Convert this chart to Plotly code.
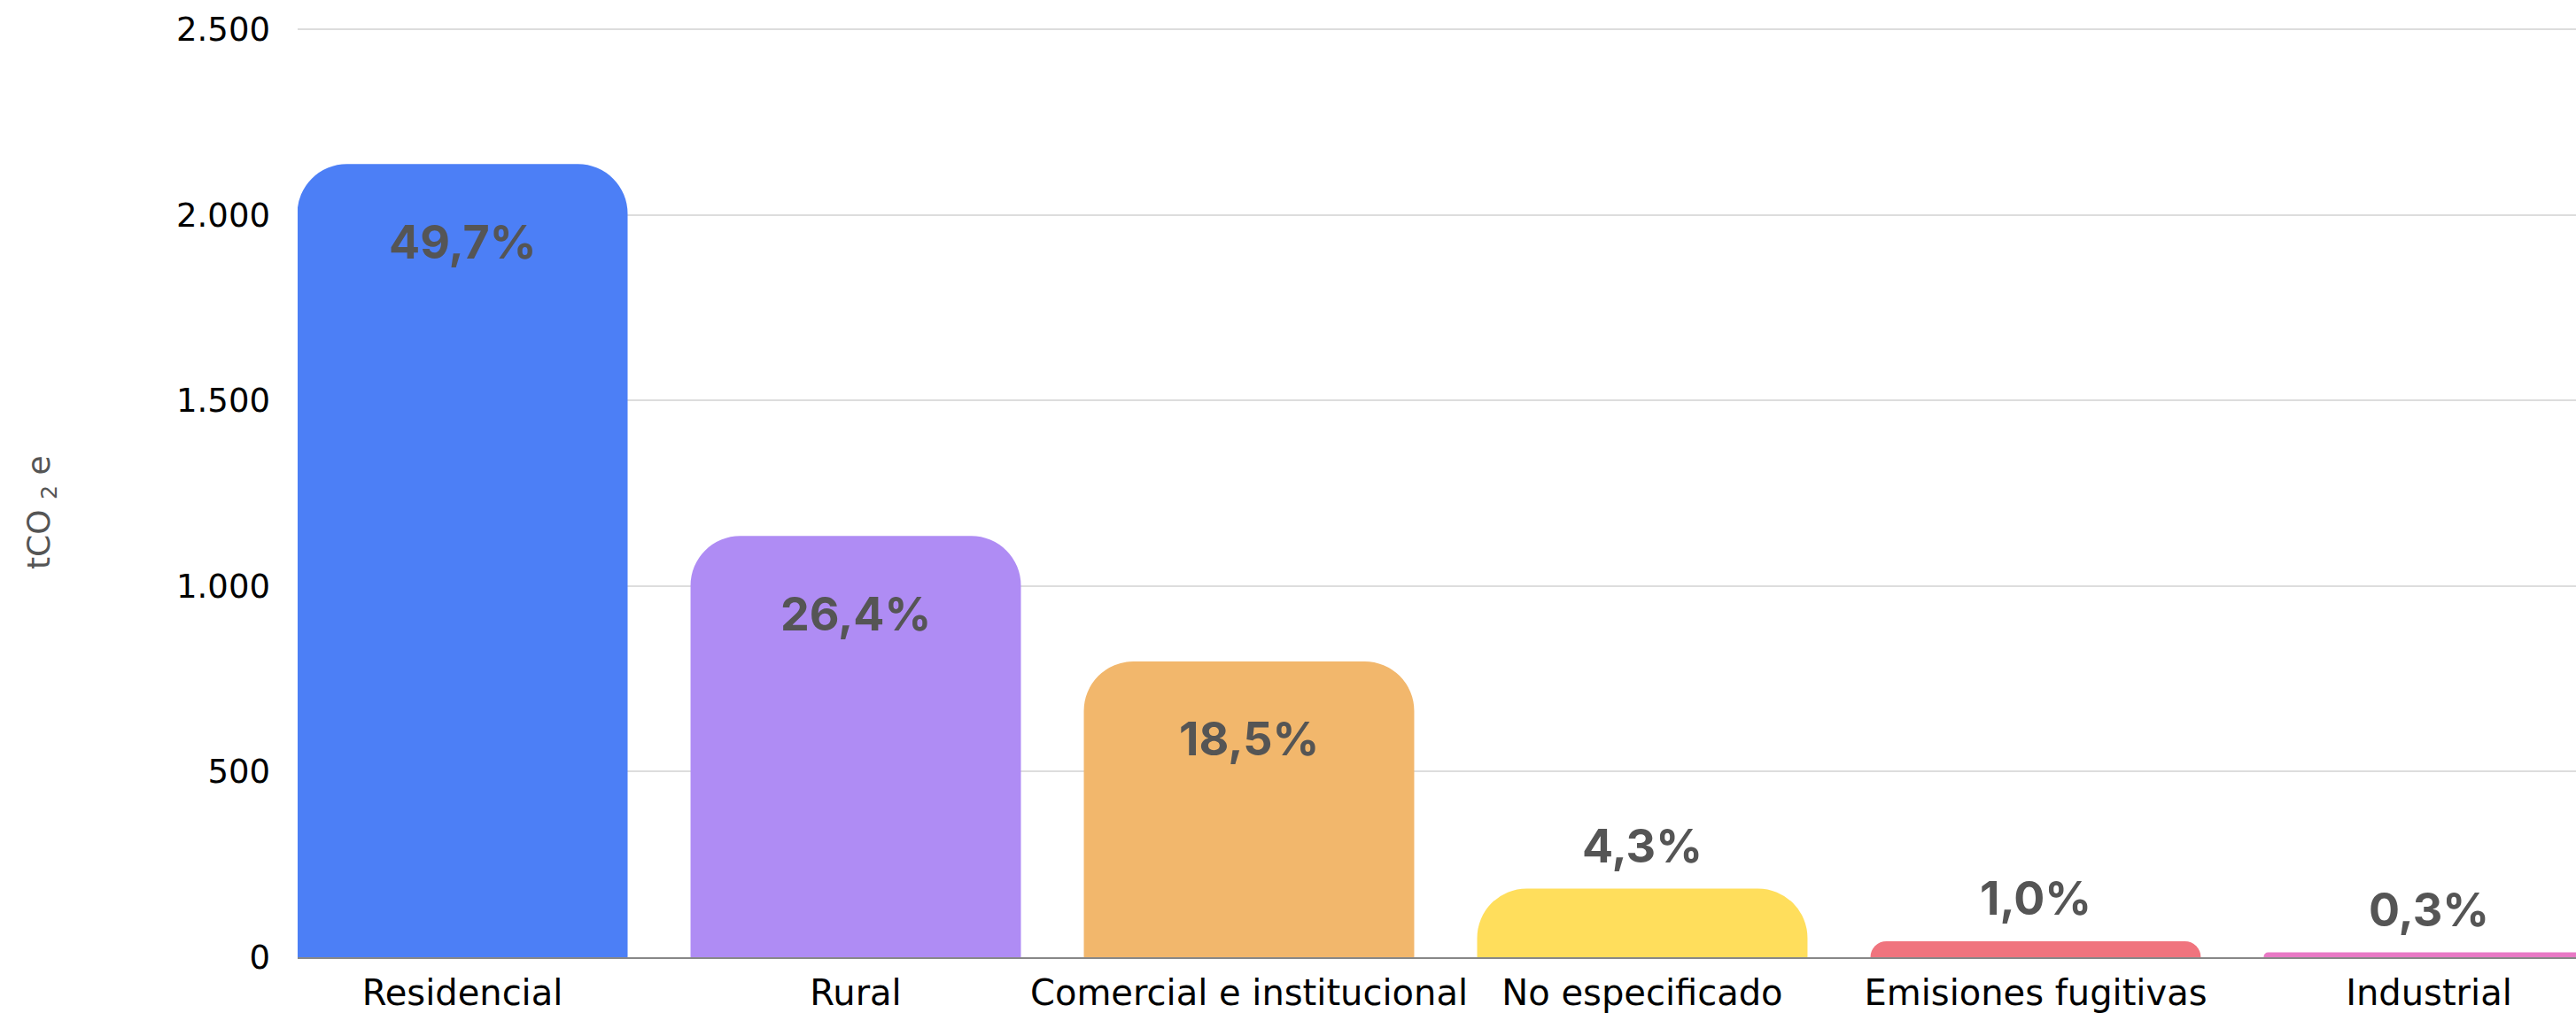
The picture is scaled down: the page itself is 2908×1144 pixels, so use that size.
import plotly.graph_objects as go

categories = ["Residencial", "Rural", "Comercial e institucional", "No especificado",
              "Emisiones fugitivas", "Industrial"]
values = [2137, 1135, 797, 185, 43, 13]
pct_labels = ["49,7%", "26,4%", "18,5%", "4,3%", "1,0%", "0,3%"]
colors = ["#4C7FF6", "#AF8CF4", "#F2B76C", "#FFDE5C", "#F0747E", "#E879C5"]
y_ticks = [0, 500, 1000, 1500, 2000, 2500]
y_ticktext = ["0", "500", "1.000", "1.500", "2.000", "2.500"]

LABEL_FONT = "Inter"
TICK_FONT = "DejaVu Sans"

fig = go.Figure()
fig.add_trace(go.Bar(
    x=categories, y=values,
    marker=dict(color=colors, line=dict(width=0), cornerradius=56),
    hoverinfo="skip",
))

for cat, v, lab in zip(categories, values, pct_labels):
    inside = v > 500
    fig.add_annotation(
        x=cat, y=v, xref="x", yref="y",
        text=f"<b>{lab}</b>", showarrow=False,
        yanchor="middle", yshift=-88 if inside else 48,
        font=dict(family=LABEL_FONT, size=52, color="#555555"),
    )

fig.add_annotation(
    x=0, y=0.5, xref="paper", yref="paper",
    text="tCO <sub>2</sub> e", showarrow=False, textangle=-90,
    xanchor="center", yanchor="middle", xshift=-290, yshift=-23,
    font=dict(family=TICK_FONT, size=36, color="#555555"),
)

fig.update_layout(
    width=2908, height=1144,
    margin=dict(l=336, r=0, t=31, b=63, autoexpand=False),
    paper_bgcolor="white", plot_bgcolor="white",
    bargap=0.16, showlegend=False,
    font=dict(family=TICK_FONT, color="#000000"),
)
fig.update_xaxes(
    range=[-0.419, 5.374], showgrid=False, showline=True,
    linecolor="#888888", linewidth=2, ticks="",
    tickfont=dict(family=TICK_FONT, size=40, color="#000000"),
    ticklabelstandoff=4, automargin=False,
)
fig.update_yaxes(
    range=[0, 2505], tickvals=y_ticks, ticktext=y_ticktext,
    showgrid=True, gridcolor="#DDDDDD", gridwidth=2,
    zeroline=False, showline=False, ticks="",
    tickfont=dict(family=TICK_FONT, size=37, color="#000000"),
    ticklabelstandoff=30, automargin=False,
)

fig.write_html("out.html", config={"displayModeBar": False},
               post_script="document.body.style.margin='0';document.body.style.overflow='hidden';")
